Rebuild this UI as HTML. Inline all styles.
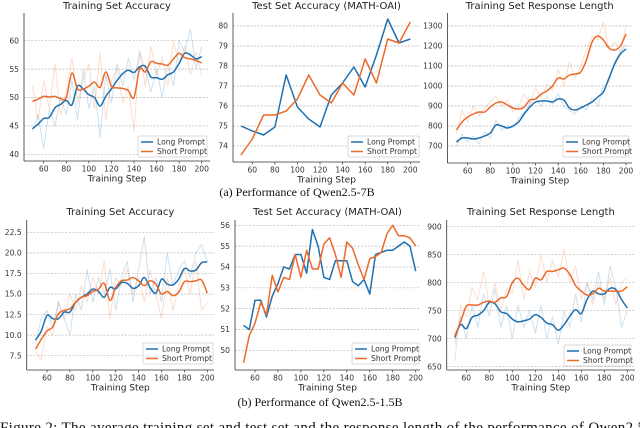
<!DOCTYPE html>
<html><head><meta charset="utf-8">
<style>
html,body{margin:0;padding:0;background:#fff;}
body{width:640px;height:428px;overflow:hidden;position:relative;}
svg{position:absolute;left:0;top:0;}
</style></head>
<body>
<svg id="fig" width="640" height="428" viewBox="0 0 640 428" font-family="'DejaVu Sans','Liberation Sans',sans-serif"></svg>
<script>
// ---- data ----
const steps5 = [50,55,60,65,70,75,80,85,90,95,100,105,110,115,120,125,130,135,140,145,150,155,160,165,170,175,180,185,190,195,200];
const steps10 = [50,60,70,80,90,100,110,120,130,140,150,160,170,180,190,200];
const seriesNames = ["Long Prompt","Short Prompt"];

const p1LongSmooth = [44.5,45.3,46.3,46.5,48.2,48.8,49.5,48.7,52,51.5,50.5,50,48.5,50.2,51.5,53,54.2,54.8,54.4,55.4,55.5,53.6,53.5,53.2,54,54.5,56,57.8,57.5,56.8,57.2];
const p1ShortSmooth = [49.3,49.7,50.2,50.1,50.2,49.8,50,54.3,51.5,51.5,52,52.7,51.8,54.5,52,51.7,51.6,51.2,50,55,54.5,56.3,56,55.9,55.7,56.8,57.8,57,56.8,56.5,56.1];
const p1LongRaw = [44,47,41,48,45,50,47,53,46,55,48,52,43,54,49,56,52,57,53,58,55,51,55,50,56,52,60,58,62,55,59];
const p1ShortRaw = [52,46,53,48,56,47,51,57,49,53,56,48,58,46,53,55,49,52,44,58,52,59,54,57,52,60,56,59,54,58,54];
const p1YTicks = [40,45,50,55,60];

const p2Long = [75,74.75,74.55,74.95,77.55,75.95,75.35,74.95,76.55,77.15,77.95,76.95,78.55,80.35,79.15,79.35];
const p2Short = [73.55,74.35,75.55,75.55,75.75,76.35,77.55,76.55,76.15,77.15,76.55,78.35,77.15,79.35,79.15,80.2];
const p2YTicks = [74,75,76,77,78,79,80];

const p3LongSmooth = [720,740,740,735,740,750,765,805,800,790,800,820,860,895,920,925,925,920,935,930,890,880,890,905,920,945,970,1040,1110,1160,1185];
const p3ShortSmooth = [780,820,845,860,870,870,895,915,920,905,890,885,895,930,935,960,975,1000,1040,1035,1055,1060,1070,1130,1220,1250,1230,1190,1180,1200,1260];
const p3LongRaw = [700,760,720,750,710,770,740,830,780,800,790,840,870,910,940,900,950,910,960,900,880,860,900,880,940,900,1000,1020,1120,1170,1210];
const p3ShortRaw = [760,880,820,900,850,890,920,950,900,930,870,900,960,910,990,940,1010,980,1080,1000,1120,1040,1100,1180,1250,1230,1320,1180,1220,1170,1300];
const p3YTicks = [700,800,900,1000,1100,1200,1300];

const p4LongSmooth = [9.4,10.5,12.4,12,12,12.8,12.8,14,14.6,15,15.6,15.3,14.6,15.8,15.6,16.4,16.3,15.7,16,17,15.8,15.1,16.8,16.2,16.1,16.8,18.1,17.8,17.9,18.8,18.9];
const p4ShortSmooth = [8.3,9.5,10.5,11,12.6,13,13.2,14,14.6,14.8,15.3,15.6,16.3,14.2,15.8,16.6,16.7,17,16.6,16,16.6,16.2,15,15.3,14.8,15.2,16.5,16.5,16.6,16.7,15.1];
const p4LongRaw = [9,12,13,11,14,12,10,15,13,18,14,17,15,18,13,17,19,14,18,22,15,17,14,20,16,18,19,17,20,21,19];
const p4ShortRaw = [8,7,11,10,14,12,15,13,16,14,17,15,19,12,17,16,18,15,17,14,18,15,12,17,13,16,18,15,19,13,14];
const p4YTicks = [7.5,10,12.5,15,17.5,20,22.5];

const p5Long = [51.2,51,52.4,52.4,51.6,52.6,53.2,54,53.9,54.6,54.6,53.7,55.8,55,53.5,53.4,54.3,54.3,54.3,53.3,53.1,53.4,52.7,54.6,54.7,54.8,54.8,55,55.2,55,53.8];
const p5Short = [49.4,50.7,51.3,52.3,51.7,53.6,52.8,53.5,53.4,54.6,53.5,54.8,53.9,53.9,55.1,55.4,54.6,53.5,55.2,54.9,54.1,53.4,54.4,54.5,54.7,55.6,56,55.5,55.5,55.4,55];
const p5YTicks = [50,51,52,53,54,55,56];

const p6LongSmooth = [702,725,718,738,742,750,765,762,748,745,735,730,732,735,743,738,728,725,715,725,740,752,745,770,785,780,780,790,788,770,755];
const p6ShortSmooth = [705,730,758,760,760,765,767,765,773,775,800,808,795,788,808,805,820,820,823,826,815,795,785,778,780,790,785,785,785,785,793];
const p6LongRaw = [690,740,700,760,720,780,740,790,720,760,700,760,720,750,710,760,700,740,690,750,720,780,730,800,770,820,760,830,790,720,750];
const p6ShortRaw = [660,760,740,790,770,820,760,800,750,790,780,840,770,820,790,850,800,840,810,860,800,830,770,800,760,800,770,810,760,800,810];
const p6YTicks = [650,700,750,800,850,900];

const xTicks = [60,80,100,120,140,160,180,200];

// ---- drawing ----
const NS = "http://www.w3.org/2000/svg";
const svg = document.getElementById('fig');
const BLUE = "#1f70b0", ORANGE = "#ec6a2a";
function mk(tag, attrs, parent){
  const e = document.createElementNS(NS, tag);
  for (const k in attrs) e.setAttribute(k, attrs[k]);
  (parent||svg).appendChild(e);
  return e;
}
function smoothPath(pts){
  let d = "M"+pts[0][0].toFixed(2)+","+pts[0][1].toFixed(2);
  for (let i=0;i<pts.length-1;i++){
    const p0=pts[Math.max(0,i-1)], p1=pts[i], p2=pts[i+1], p3=pts[Math.min(pts.length-1,i+2)];
    const c1x=p1[0]+(p2[0]-p0[0])/6, c1y=p1[1]+(p2[1]-p0[1])/6;
    const c2x=p2[0]-(p3[0]-p1[0])/6, c2y=p2[1]-(p3[1]-p1[1])/6;
    d+=" C"+c1x.toFixed(2)+","+c1y.toFixed(2)+" "+c2x.toFixed(2)+","+c2y.toFixed(2)+" "+p2[0].toFixed(2)+","+p2[1].toFixed(2);
  }
  return d;
}
function linePath(pts){ return pts.map((p,i)=>(i?"L":"M")+p[0].toFixed(2)+","+p[1].toFixed(2)).join(" "); }

function panel(cfg){
  const g = mk('g', {});
  
  
  const xs = v => cfg.xa[1] + (v-cfg.xa[0])*(cfg.xb[1]-cfg.xa[1])/(cfg.xb[0]-cfg.xa[0]);
  const ys = v => cfg.ya[1] + (v-cfg.ya[0])*(cfg.yb[1]-cfg.ya[1])/(cfg.yb[0]-cfg.ya[0]);
  const t = mk('text', {x:(cfg.left+cfg.right)/2, y:cfg.titleY, 'font-size':10, 'text-anchor':'middle', fill:'#222'}, g);
  t.textContent = cfg.title;
  
  
  cfg.yticks.forEach(v=>{
    const y = ys(v);
    const gl = mk('line', {x1:cfg.left, x2:cfg.right, y1:y, y2:y, stroke:'#b8b8b8', 'stroke-width':0.7, 'stroke-dasharray':'2,1.5'}, g);
    
    
    const tl = mk('text', {x:cfg.left-5, y:y+2.7, 'font-size':7.6, 'text-anchor':'end', fill:'#333'}, g);
    tl.textContent = cfg.ylabelFmt ? cfg.ylabelFmt(v) : String(v);
    
    
  });
  xTicks.forEach(v=>{
    const x = xs(v);
    mk('line', {x1:x, x2:x, y1:cfg.bottom, y2:cfg.bottom+2.5, stroke:'#333', 'stroke-width':0.7}, g);
    const tl = mk('text', {x:x, y:cfg.bottom+10.5, 'font-size':7.6, 'text-anchor':'middle', fill:'#333'}, g);
    tl.textContent = String(v);
    
    
  });
  const xl = mk('text', {x:(cfg.left+cfg.right)/2, y:cfg.bottom+20.5, 'font-size':9, 'text-anchor':'middle', fill:'#222'}, g);
  xl.textContent = "Training Step";
  
  
  const cols = [BLUE, ORANGE];
  if (cfg.raw){
    cfg.raw.forEach((arr,i)=>{
      const p = mk('path', {d:linePath(arr.map((v,j)=>[xs(cfg.steps[j]), ys(v)])), fill:'none', stroke:cols[i], 'stroke-width':1, opacity:0.22}, g);
      
      
    });
  }
  cfg.series.forEach((arr,i)=>{
    const pts = arr.map((v,j)=>[xs(cfg.steps[j]), ys(v)]);
    const p = mk('path', {d: cfg.smooth ? smoothPath(pts) : linePath(pts), fill:'none', stroke:cols[i], 'stroke-width':1.5, 'stroke-linejoin':'round'}, g);
    
    
  });
  mk('line', {x1:cfg.left, x2:cfg.left, y1:cfg.top, y2:cfg.bottom, stroke:'#333', 'stroke-width':0.8}, g);
  mk('line', {x1:cfg.left, x2:cfg.right, y1:cfg.bottom, y2:cfg.bottom, stroke:'#333', 'stroke-width':0.8}, g);
  const L = cfg.legend;
  const lg = mk('g', {}, g);
  
  
  mk('rect', {x:L[0], y:L[1], width:L[2], height:21, rx:1.5, fill:'#fff', 'fill-opacity':0.85, stroke:'#ccc', 'stroke-width':0.7}, lg);
  seriesNames.forEach((n,i)=>{
    const yy = L[1]+6+i*9.5;
    mk('line', {x1:L[0]+3, x2:L[0]+15, y1:yy, y2:yy, stroke:cols[i], 'stroke-width':1.5}, lg);
    const tx = mk('text', {x:L[0]+19, y:yy+2.7, 'font-size':7.6, fill:'#333'}, lg);
    tx.textContent = n;
    
    
  });
}

const fmt25 = v => v.toFixed(1);
panel({name:'train-acc-7b', title:'Training Set Accuracy', titleY:9, left:24, right:210, top:13, bottom:161,
  xa:[60,43.7], xb:[200,201.7], ya:[60,40.7], yb:[40,154.3], yticks:p1YTicks, steps:steps5, smooth:true,
  series:[p1LongSmooth,p1ShortSmooth], raw:[p1LongRaw,p1ShortRaw], legend:[138,136,69]});
panel({name:'test-acc-7b', title:'Test Set Accuracy (MATH-OAI)', titleY:9, left:233, right:420, top:13, bottom:162,
  xa:[60,252.3], xb:[200,410.3], ya:[80,26], yb:[74,146], yticks:p2YTicks, steps:steps10, smooth:false,
  series:[p2Long,p2Short], legend:[348,136,71]});
panel({name:'response-len-7b', title:'Training Set Response Length', titleY:9, left:447.5, right:632, top:13, bottom:163,
  xa:[60,467.7], xb:[200,626], ya:[1300,26], yb:[700,146], yticks:p3YTicks, steps:steps5, smooth:true,
  series:[p3LongSmooth,p3ShortSmooth], raw:[p3LongRaw,p3ShortRaw], legend:[563,136,66]});
panel({name:'train-acc-1.5b', title:'Training Set Accuracy', titleY:215, left:26.7, right:214, top:220, bottom:370,
  xa:[60,47], xb:[200,207.3], ya:[22.5,232.3], yb:[7.5,355.7], yticks:p4YTicks, ylabelFmt:fmt25, steps:steps5, smooth:true,
  series:[p4LongSmooth,p4ShortSmooth], raw:[p4LongRaw,p4ShortRaw], legend:[143,343,70]});
panel({name:'test-acc-1.5b', title:'Test Set Accuracy (MATH-OAI)', titleY:215, left:235, right:420, top:220, bottom:370,
  xa:[60,255], xb:[200,415.7], ya:[56,225.3], yb:[50,350.3], yticks:p5YTicks, steps:steps5, smooth:false,
  series:[p5Long,p5Short], legend:[352,343,67]});
panel({name:'response-len-1.5b', title:'Training Set Response Length', titleY:215, left:446.7, right:635, top:220, bottom:370,
  xa:[60,466.3], xb:[200,627.3], ya:[900,226.7], yb:[650,366.7], yticks:p6YTicks, steps:steps5, smooth:true,
  series:[p6LongSmooth,p6ShortSmooth], raw:[p6LongRaw,p6ShortRaw], legend:[564,345,67]});

function cap(txt, x, y, size, name, anchor, len){
  const a = {x:x, y:y, 'font-size':size, 'text-anchor':anchor||'middle', fill:'#111', 'font-family':"'Liberation Serif',serif"};
  if (len){ a.textLength = len; a.lengthAdjust = 'spacing'; }
  const c = mk('text', a);
  c.textContent = txt;
  
  
}
cap('(a) Performance of Qwen2.5-7B', 297, 196, 12, 'caption-a');
cap('(b) Performance of Qwen2.5-1.5B', 320, 406, 12, 'caption-b');
cap('Figure 2: The average training set and test set and the response length of the performance of Qwen2.5', 0, 432, 15, 'figure-caption', 'start', 645);
</script>
</body></html>
